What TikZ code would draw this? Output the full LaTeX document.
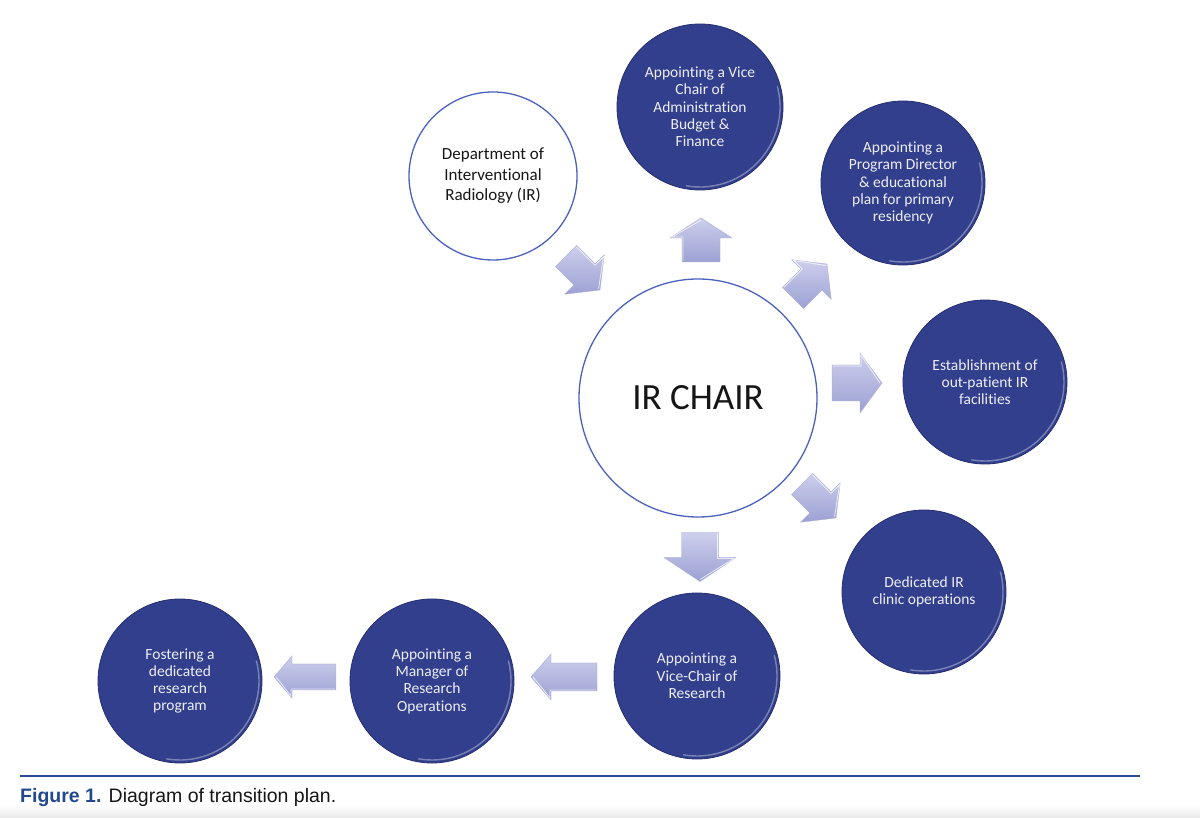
\documentclass[tikz,border=0pt]{standalone}
\usepackage{fontspec}
\setmainfont[Ligatures={NoCommon}]{Carlito}
\newfontfamily\capfont{Liberation Sans}
\usetikzlibrary{calc}
\definecolor{darkblue}{RGB}{50,63,140}
\definecolor{darkedge}{RGB}{36,46,112}
\definecolor{ringblue}{RGB}{74,98,190}
\definecolor{arrowlight}{RGB}{204,207,236}
\definecolor{arrowdark}{RGB}{156,161,211}
\definecolor{arrowedge}{RGB}{168,172,220}
\definecolor{capblue}{RGB}{36,72,142}
\definecolor{ruleblue}{RGB}{42,74,152}
\definecolor{textwhite}{RGB}{238,238,246}
\definecolor{textdark}{RGB}{22,22,22}
\tikzset{
  darkc/.style={circle, fill=darkblue, draw=darkedge, line width=0.8pt,
    minimum size=#1, inner sep=0pt, text=textwhite, align=center,
    font=\fontsize{15.5}{17.3}\selectfont,
    path picture={\draw[white, opacity=0.35, line width=1.4pt]
      (path picture bounding box.center) ++(-100:#1/2-3pt) arc(-100:15:#1/2-3pt);}},
  whitec/.style={circle, fill=white, draw=ringblue, line width=1.3pt,
    minimum size=#1, inner sep=0pt, text=textdark, align=center},
  pics/barrow/.style n args={4}{code={
    \shadedraw[top color=arrowlight, bottom color=arrowdark, draw=arrowedge, line width=0.4pt]
      (-#1/2,-#2/2) -- ({#1/2-#4},-#2/2) -- ({#1/2-#4},-#3/2) -- (#1/2,0)
      -- ({#1/2-#4},#3/2) -- ({#1/2-#4},#2/2) -- (-#1/2,#2/2) -- cycle;
    \draw[white, opacity=0.7, line width=0.9pt]
      (-#1/2+1,#2/2-1) -- ({#1/2-#4+1},#2/2-1) -- ({#1/2-#4+1},#3/2-2) -- (#1/2-2,0);
  }}
}
\begin{document}
\begin{tikzpicture}[x=1pt,y=1pt]
\fill[white] (0,0) rectangle (1200,817);
\useasboundingbox (0,0) rectangle (1200,817);
\shade[top color=white, bottom color=black!8] (0,0) rectangle (1200,12);

% centre
\node[whitec=238pt, font=\fontsize{37}{40}\selectfont] (chair) at (698,419) {IR CHAIR};

% satellites
\node[whitec=168pt, font=\fontsize{17}{20.5}\selectfont] (dept) at (493,641)
  {Department of\\Interventional\\Radiology (IR)};
\node[darkc=166pt] (vca) at (700,710)
  {Appointing a Vice\\Chair of\\Administration\\Budget \&\\Finance};
\node[darkc=164pt] (pd) at (903,634)
  {Appointing a\\Program Director\\\& educational\\plan for primary\\residency};
\node[darkc=164pt] (op) at (985,435)
  {Establishment of\\out-patient IR\\facilities};
\node[darkc=164pt] (ded) at (924,225)
  {Dedicated IR\\clinic operations};
\node[darkc=166pt] (vcr) at (697,141)
  {Appointing a\\Vice-Chair of\\Research};
\node[darkc=164pt] (mgr) at (432,136)
  {Appointing a\\Manager of\\Research\\Operations};
\node[darkc=164pt] (fos) at (180,136)
  {Fostering a\\dedicated\\research\\program};

% block arrows
\pic[rotate=-45] (a1) at (583,544) {barrow={48}{30}{56}{22}};
\pic[rotate=90]  (a2) at (701,577) {barrow={44}{38}{62}{20}};
\pic[rotate=45]  (a3) at (810,536) {barrow={48}{30}{56}{22}};
\pic[rotate=0]   (a4) at (857,434) {barrow={50}{36}{60}{22}};
\pic[rotate=-45] (a5) at (819,316) {barrow={48}{30}{56}{22}};
\pic[rotate=-90] (a6) at (700,260) {barrow={49}{37}{72}{24}};
\pic[rotate=180] (a7) at (564,140) {barrow={66}{28}{46}{20}};
\pic[rotate=180] (a8) at (305,140) {barrow={62}{26}{42}{18}};

% caption
\coordinate (rulel) at (20,41);
\coordinate (ruler) at (1140,41);
\draw[ruleblue, line width=2.5pt] (rulel) -- (ruler);
\node[anchor=base west, inner sep=0pt, text=textdark,
  font=\capfont\fontsize{19.5}{22}\selectfont] (cap) at (20,15)
  {\textcolor{capblue}{\bfseries Figure 1.} Diagram of transition plan.};
\end{tikzpicture}
\end{document}
